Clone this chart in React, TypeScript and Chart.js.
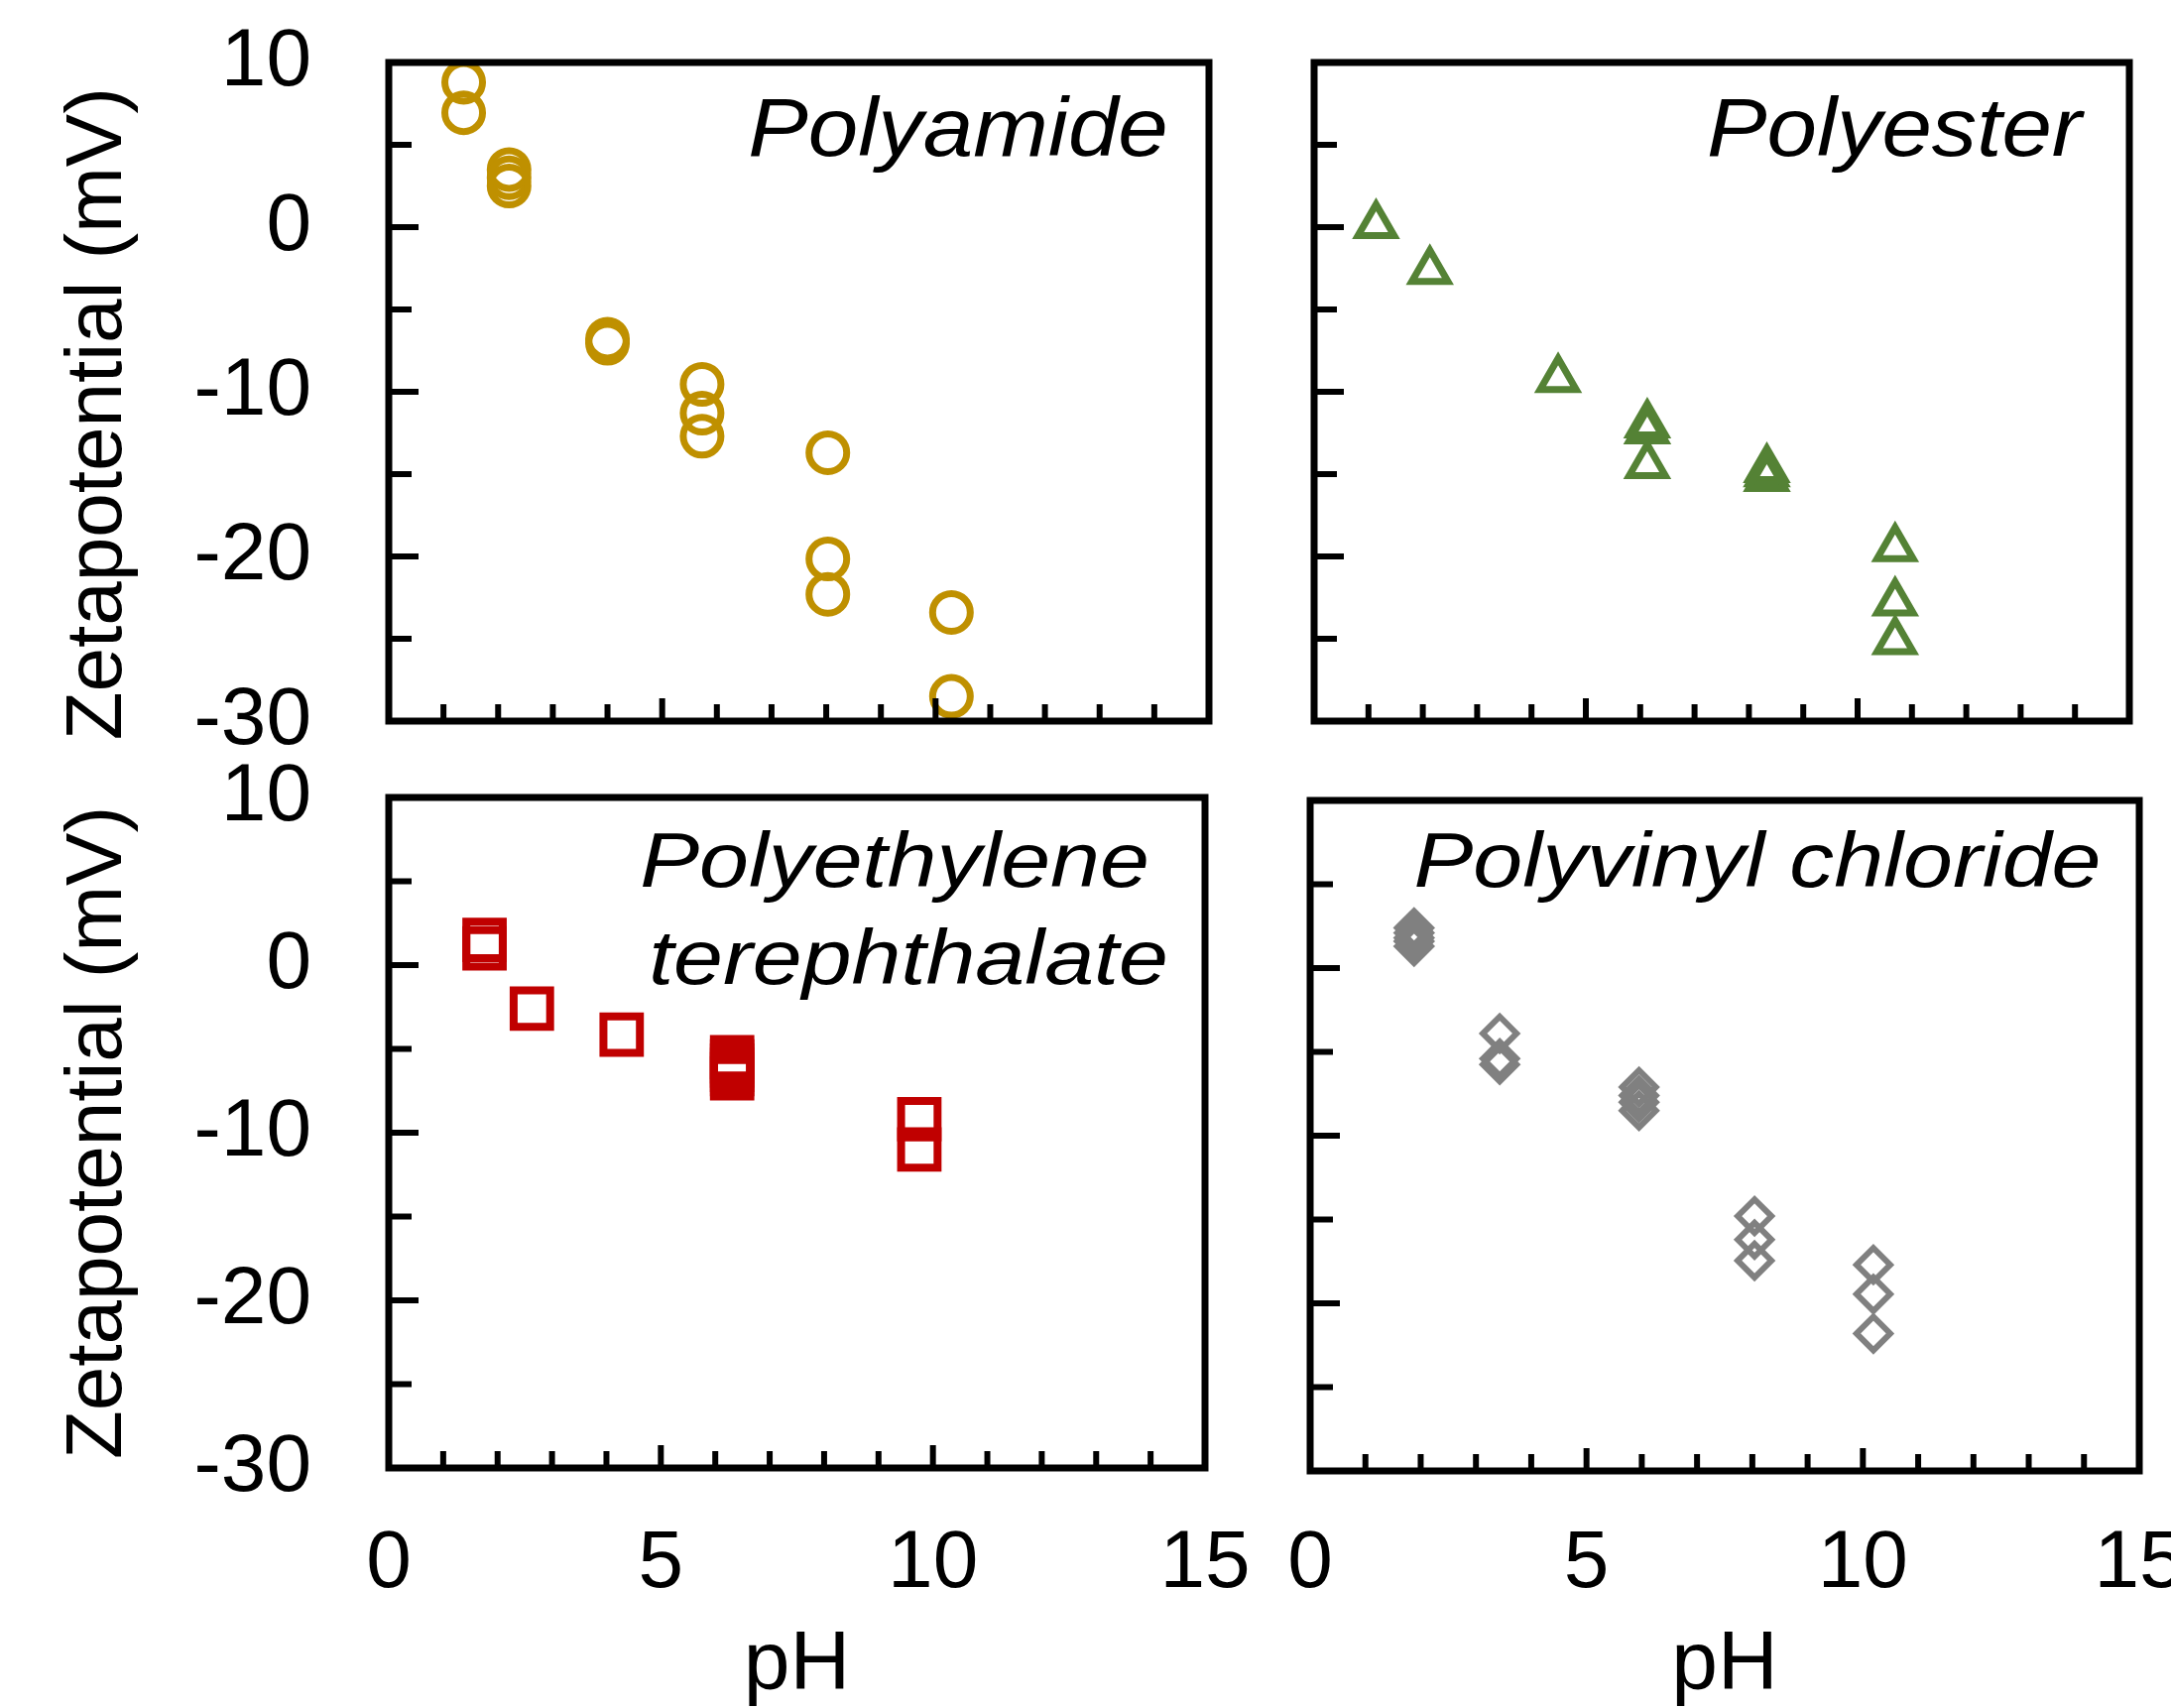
import React, { useEffect, useRef } from "react";
import { Chart, registerables } from "chart.js";

Chart.register(...registerables);

// ---- tick labels / tick marks ----
const yTickValues = [10, 0, -10, -20, -30];
const xTickValues = [0, 5, 10, 15];
const yMajorMarks = [0, -10, -20];
const yMinorMarks = [5, -5, -15, -25];
const xMajorMarks = [5, 10];
const xMinorMarks = [1, 2, 3, 4, 6, 7, 8, 9, 11, 12, 13, 14];

// ---- data ----
const polyamidePH = [1.37, 1.37, 2.2, 2.2, 2.2, 4.0, 4.0, 5.73, 5.73, 5.73, 8.03, 8.03, 8.03, 10.29, 10.29];
const polyamideZeta = [8.8, 6.95, 3.5, 3.0, 2.5, -6.8, -7.05, -9.55, -11.3, -12.7, -13.7, -20.15, -22.3, -23.4, -28.5];

const polyesterPH = [1.14, 2.13, 4.49, 6.13, 6.13, 6.13, 8.33, 8.33, 8.33, 10.69, 10.69, 10.69];
const polyesterZeta = [0.12, -2.66, -9.23, -11.99, -12.35, -14.46, -14.7, -14.95, -15.24, -19.5, -22.8, -25.15];

const petPH = [1.76, 1.76, 2.63, 4.28, 6.31, 6.31, 6.31, 6.31, 6.31, 6.31, 9.75, 9.75];
const petZeta = [1.5, 1.0, -2.6, -4.15, -5.5, -5.75, -6.0, -6.25, -6.5, -6.75, -9.2, -11.0];

const pvcPH = [1.88, 1.88, 1.88, 1.88, 1.88, 3.43, 3.43, 3.43, 5.95, 5.95, 5.95, 5.95, 8.04, 8.04, 8.04, 10.19, 10.19, 10.19];
const pvcZeta = [2.4, 2.1, 1.8, 1.6, 1.3, -3.9, -5.4, -5.75, -7.1, -7.6, -8.0, -8.5, -14.8, -16.2, -17.45, -17.7, -19.45, -21.8];

const FONT = '"Liberation Sans", Arial, sans-serif';

const framePlugin = {
  id: "frame",
  afterDraw(chart: any, _args: any, opts: any) {
    const { ctx, chartArea: a, scales } = chart;
    const xs = scales.x;
    const ys = scales.y;
    ctx.save();
    ctx.strokeStyle = "#000";
    ctx.lineCap = "butt";
    ctx.lineWidth = 6;
    const hline = (v: number, len: number) => {
      const py = ys.getPixelForValue(v);
      ctx.beginPath();
      ctx.moveTo(a.left, py);
      ctx.lineTo(a.left + len, py);
      ctx.stroke();
    };
    const vline = (v: number, len: number) => {
      const px = xs.getPixelForValue(v);
      ctx.beginPath();
      ctx.moveTo(px, a.bottom);
      ctx.lineTo(px, a.bottom - len);
      ctx.stroke();
    };
    yMajorMarks.forEach((v) => hline(v, 30));
    yMinorMarks.forEach((v) => hline(v, 23));
    xMajorMarks.forEach((v) => vline(v, 23));
    xMinorMarks.forEach((v) => vline(v, 17));
    ctx.lineWidth = 7;
    ctx.lineJoin = "miter";
    ctx.strokeRect(a.left, a.top, a.right - a.left, a.bottom - a.top);
    ctx.fillStyle = "#000";
    ctx.font = `italic ${opts.size}px ${FONT}`;
    ctx.textAlign = "center";
    ctx.textBaseline = "alphabetic";
    for (const l of opts.lines) {
      ctx.save();
      ctx.translate(l.x, l.y);
      ctx.scale(opts.sx, 1);
      ctx.fillText(l.text, 0, 0);
      ctx.restore();
    }
    ctx.restore();
  },
};

type Spec = {
  left: number;
  top: number;
  w: number;
  h: number;
  padTop: number;
  padRight: number;
  yWidth: number;
  xHeight: number;
  showY: boolean;
  showX: boolean;
  yTitle: string;
  xLabelPad: number;
  lines: { text: string; x: number; y: number }[];
  titleSize: number;
  titleSx: number;
  color: string;
  pointStyle: string;
  radius: number;
  borderWidth: number;
  xs: number[];
  ys: number[];
};

function Panel({ spec }: { spec: Spec }) {
  const ref = useRef<HTMLCanvasElement>(null);
  useEffect(() => {
    const canvas = ref.current;
    if (!canvas) return;
    const chart = new Chart(canvas, {
      type: "scatter",
      data: {
        datasets: [
          {
            data: spec.xs.map((x, i) => ({ x, y: spec.ys[i] })),
            pointStyle: spec.pointStyle as any,
            pointRadius: spec.radius,
            pointHoverRadius: spec.radius,
            pointBorderWidth: spec.borderWidth,
            borderColor: spec.color,
            backgroundColor: "rgba(0,0,0,0)",
            clip: false as any,
          },
        ],
      },
      options: {
        responsive: false,
        animation: false,
        devicePixelRatio: 1,
        layout: { padding: { top: spec.padTop, right: spec.padRight, left: 0, bottom: 0 } },
        plugins: {
          legend: { display: false },
          tooltip: { enabled: false },
          frame: { lines: spec.lines, size: spec.titleSize, sx: spec.titleSx },
        } as any,
        scales: {
          x: {
            type: "linear",
            min: 0,
            max: 15,
            afterBuildTicks: (s: any) => {
              s.ticks = xTickValues.map((v) => ({ value: v }));
            },
            afterFit: (s: any) => {
              s.height = spec.xHeight;
            },
            ticks: {
              display: spec.showX,
              autoSkip: false,
              maxRotation: 0,
              minRotation: 0,
              padding: 0,
              color: "#000",
              font: { family: FONT, size: 82 },
            },
            grid: { display: false, drawTicks: true, tickLength: spec.xLabelPad },
            border: { display: false },
            title: {
              display: spec.showX,
              text: "pH",
              color: "#000",
              font: { family: FONT, size: 84 },
              padding: { top: 0, bottom: 70 },
            },
          },
          y: {
            type: "linear",
            min: -30,
            max: 10,
            afterBuildTicks: (s: any) => {
              s.ticks = yTickValues.map((v) => ({ value: v }));
            },
            afterFit: (s: any) => {
              s.width = spec.yWidth;
            },
            ticks: {
              display: spec.showY,
              autoSkip: false,
              padding: 0,
              color: "#000",
              font: { family: FONT, size: 82 },
            },
            grid: { display: false, drawTicks: true, tickLength: 78 },
            border: { display: false },
            title: {
              display: spec.showY,
              text: spec.yTitle,
              color: "#000",
              font: { family: FONT, size: 80 },
              padding: { top: 52, bottom: 0 },
            },
          },
        },
      } as any,
      plugins: [framePlugin as any],
    });
    return () => chart.destroy();
  }, []);
  return (
    <canvas
      ref={ref}
      width={spec.w}
      height={spec.h}
      style={{ position: "absolute", left: spec.left, top: spec.top, width: spec.w, height: spec.h }}
    />
  );
}

const specs: Spec[] = [
  {
    left: 0, top: 0, w: 1290, h: 830, padTop: 63, padRight: 71, yWidth: 392, xHeight: 103,
    showY: true, showX: false, yTitle: "Zetapotential (mV)  ", xLabelPad: 48,
    lines: [{ text: "Polyamide", x: 966, y: 157 }], titleSize: 84, titleSx: 1.08,
    color: "#BF9000", pointStyle: "circle", radius: 19, borderWidth: 7,
    xs: polyamidePH, ys: polyamideZeta,
  },
  {
    left: 1250, top: 0, w: 939, h: 830, padTop: 63, padRight: 42, yWidth: 75, xHeight: 103,
    showY: false, showX: false, yTitle: "", xLabelPad: 48,
    lines: [{ text: "Polyester", x: 660, y: 157 }], titleSize: 84, titleSx: 1.08,
    color: "#548235", pointStyle: "triangle", radius: 21, borderWidth: 7,
    xs: polyesterPH, ys: polyesterZeta,
  },
  {
    left: 0, top: 700, w: 1290, h: 1100, padTop: 104, padRight: 75, yWidth: 392, xHeight: 320,
    showY: true, showX: true, yTitle: "Zetapotential (mV)", xLabelPad: 48,
    lines: [
      { text: "Polyethylene", x: 902, y: 194 },
      { text: "terephthalate", x: 916, y: 292 },
    ],
    titleSize: 78, titleSx: 1.15,
    color: "#C00000", pointStyle: "rect", radius: 26, borderWidth: 8,
    xs: petPH, ys: petZeta,
  },
  {
    left: 1250, top: 700, w: 1000, h: 1100, padTop: 107, padRight: 93, yWidth: 71, xHeight: 317,
    showY: false, showX: true, yTitle: "", xLabelPad: 45,
    lines: [{ text: "Polyvinyl chloride", x: 522, y: 194 }], titleSize: 78, titleSx: 1.15,
    color: "#808080", pointStyle: "rectRot", radius: 17, borderWidth: 6,
    xs: pvcPH, ys: pvcZeta,
  },
];

export default function App() {
  return (
    <div
      style={{
        position: "fixed",
        left: 0,
        top: 0,
        width: 2189,
        height: 1722,
        overflow: "hidden",
        background: "#fff",
      }}
    >
      {specs.map((s, i) => (
        <Panel key={i} spec={s} />
      ))}
    </div>
  );
}
